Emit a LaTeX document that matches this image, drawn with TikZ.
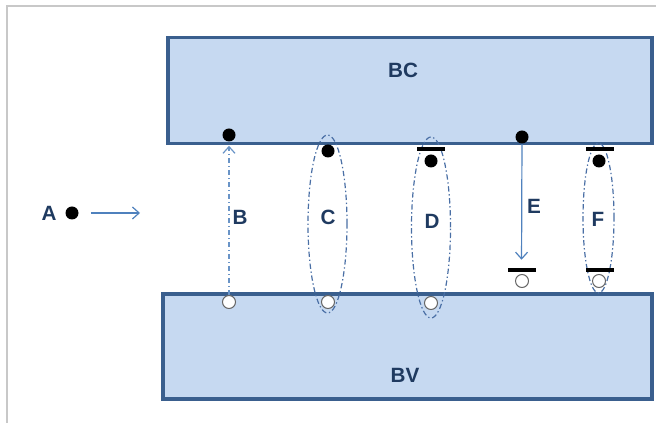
\documentclass[tikz,border=0pt]{standalone}
\usepackage{fontspec}
\setmainfont{Liberation Sans}
\usetikzlibrary{arrows.meta, positioning, shapes.geometric}
\definecolor{bandfill}{HTML}{C6D9F1}
\definecolor{bandline}{HTML}{3A5F8E}
\definecolor{labelblue}{HTML}{1F3A60}
\definecolor{arrowblue}{HTML}{4F81BD}
\definecolor{pairblue}{HTML}{4A6FA5}
\definecolor{framegray}{HTML}{C8C8C8}
\tikzset{
	bandnode/.style={
			shape=rectangle,
			draw=bandline,
			fill=bandfill,
			line width=2.4pt,
			inner sep=0pt
		}
}
\tikzset{
	fullnode/.style={
			circle,
			fill=black,
			minimum size=9.75pt,
			inner sep=0pt
		},
	emptynode/.style={
			circle,
			draw=gray!80!black,
			fill=white,
			line width=0.75pt,
			minimum size=9.75pt,
			inner sep=0pt
		},
	barnode/.style={
			shape=rectangle,
			fill=black,
			minimum width=21pt,
			minimum height=3pt,
			inner sep=0pt
		},
	pairnode/.style={
			ellipse,
			draw=pairblue,
			line width=0.9pt,
			dash pattern=on 4pt off 2pt on 1pt off 2pt,
			inner sep=0pt
		}
}
\tikzset{
	biglabel/.style={font=\fontsize{15.5}{18}\selectfont\bfseries, text=labelblue}
}
\tikzset{
	vtip/.style={-{Straight Barb[length=5pt, width=9pt]}, line width=0.9pt}
}

\begin{document}
\begin{tikzpicture}[x=0.75pt, y=-0.75pt]
			\useasboundingbox (0,0) rectangle (656,423);
			\draw[framegray, line width=1.2pt] (7,423) -- (7,6) -- (656,6);

			\node[bandnode, minimum width=363pt, minimum height=80pt] (bc) at (410,90.5) {};
			\node[bandnode, minimum width=366.75pt, minimum height=78.75pt] (bv) at (407.5,346.5) {};

			\node[biglabel] (bclabel) at (403,70) {BC};
			\node[biglabel] (bvlabel) at (405,375) {BV};

			\node[pairnode, minimum width=29.25pt, minimum height=133.5pt] (cpair) at (327.5,224) {};
			\node[pairnode, minimum width=29.25pt, minimum height=135.75pt] (dpair) at (431,227.5) {};
			\node[pairnode, minimum width=23.25pt, minimum height=112.5pt] (fpair) at (598.5,218) {};

			\node[fullnode] (adot) at (72,213) {};
			\node[fullnode] (bfull) at (229,135) {};
			\node[fullnode] (cfull) at (328,151) {};
			\node[fullnode] (dfull) at (431,161) {};
			\node[fullnode] (efull) at (522,137) {};
			\node[fullnode] (ffull) at (599,161) {};

			\node[emptynode] (bempty) at (229,302) {};
			\node[emptynode] (cempty) at (328,302) {};
			\node[emptynode] (dempty) at (431,303) {};
			\node[emptynode] (eempty) at (522,281) {};
			\node[emptynode] (fempty) at (599,281) {};

			\node[barnode] (dtop) at (431,149) {};
			\node[barnode] (ebottom) at (521.5,270) {};
			\node[barnode] (ftop) at (600,149) {};
			\node[barnode] (fbottom) at (599.5,270) {};

			\node[biglabel] (alabel) at (49,213) {A};
			\node[biglabel] (blabel) at (240,217) {B};
			\node[biglabel] (clabel) at (328,217) {C};
			\node[biglabel] (dlabel) at (432,221) {D};
			\node[biglabel] (elabel) at (534,206) {E};
			\node[biglabel] (flabel) at (598,219) {F};

			\coordinate (aend) at (140,213);
			\draw[vtip, arrowblue, shorten <=9pt] (adot) -- (aend);
			\draw[vtip, arrowblue!85, dash pattern=on 4pt off 2pt on 1pt off 2pt, shorten >=3pt] (bempty) -- (bfull);
			\draw[vtip, arrowblue, shorten >=6pt] (efull) -- (ebottom);

		\end{tikzpicture}
\end{document}
